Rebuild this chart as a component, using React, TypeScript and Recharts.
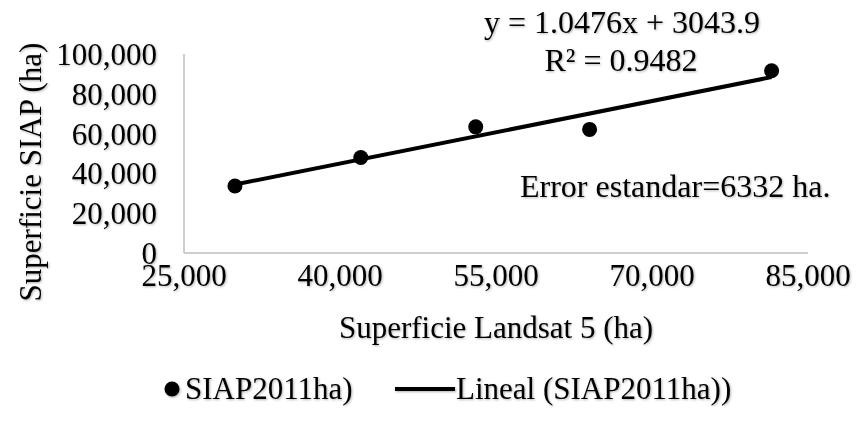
import { ScatterChart, Scatter, XAxis, YAxis } from 'recharts';

// Superficie Landsat 5 (ha) vs Superficie SIAP (ha)
const xLandsat = [29900, 42000, 53050, 64000, 81500];
const ySiap = [33700, 48000, 63400, 62100, 91600];

// linear trend ends
const trendX = [29900, 81500];
const trendY = [34400, 88400];

const xTicks = [25000, 40000, 55000, 70000, 85000];
const yTicks = [0, 20000, 40000, 60000, 80000, 100000];

const eqText = 'y = 1.0476x + 3043.9';
const r2Text = 'R² = 0.9482';
const errText = 'Error estandar=6332 ha.';

const points = xLandsat.map((x, i) => ({ x, y: ySiap[i] }));
const trend = trendX.map((x, i) => ({ x, y: trendY[i] }));

const font = '"Liberation Serif", "Times New Roman", serif';
const fs = 31;
const fmt = (v: number) => v.toLocaleString('en-US');

export default function App() {
  const tickStyle = { fill: '#000', fontSize: fs, fontFamily: font, filter: 'url(#sh)' };
  return (
    <div style={{ position: 'absolute', left: 0, top: 0, width: 857, height: 430, background: '#fff' }}>
      <ScatterChart width={857} height={430} margin={{ top: 54, right: 49, bottom: 137, left: 0 }}>
        <XAxis
          type="number"
          dataKey="x"
          domain={[25000, 85000]}
          ticks={xTicks}
          tickFormatter={fmt}
          height={40}
          tickLine={false}
          tickSize={0}
          tickMargin={11}
          axisLine={{ stroke: '#bfbfbf', strokeWidth: 1.5 }}
          tick={tickStyle}
          interval={0}
        />
        <YAxis
          type="number"
          dataKey="y"
          domain={[0, 100000]}
          ticks={yTicks}
          tickFormatter={fmt}
          width={184}
          tickLine={false}
          tickSize={0}
          tickMargin={27}
          axisLine={{ stroke: '#bfbfbf', strokeWidth: 1.5 }}
          tick={tickStyle}
          interval={0}
        />
        <Scatter
          data={trend}
          line={{ stroke: '#000', strokeWidth: 4 }}
          shape={() => <g />}
          isAnimationActive={false}
        />
        <Scatter
          data={points}
          shape={(p: any) => <circle cx={p.cx} cy={p.cy} r={7.5} fill="#000" />}
          isAnimationActive={false}
        />
      </ScatterChart>
      <svg
        width={857}
        height={430}
        style={{ position: 'absolute', left: 0, top: 0, pointerEvents: 'none' }}
        fontFamily={font}
        fontSize={fs}
      >
        <defs>
          <filter id="sh" x="-10%" y="-20%" width="120%" height="150%">
            <feDropShadow dx="1" dy="1" stdDeviation="0.8" floodColor="#000" floodOpacity="0.3" />
          </filter>
        </defs>
        <g filter="url(#sh)">
          <text x={622} y={33} textAnchor="middle" fontSize={32}>{eqText}</text>
          <text x={621} y={71} textAnchor="middle" fontSize={32}>{r2Text}</text>
          <text x={520} y={197} fontSize={32}>{errText}</text>
          <text x={496} y={338} textAnchor="middle">Superficie Landsat 5 (ha)</text>
          <text x={41} y={172} textAnchor="middle" transform="rotate(-90 41 172)">
            Superficie SIAP (ha)
          </text>
          <circle cx={172} cy={389} r={7.5} fill="#000" />
          <text x={185} y={399}>SIAP2011ha)</text>
          <line x1={395} y1={389} x2={455} y2={389} stroke="#000" strokeWidth={4} />
          <text x={456} y={399}>Lineal (SIAP2011ha))</text>
        </g>
      </svg>
    </div>
  );
}
